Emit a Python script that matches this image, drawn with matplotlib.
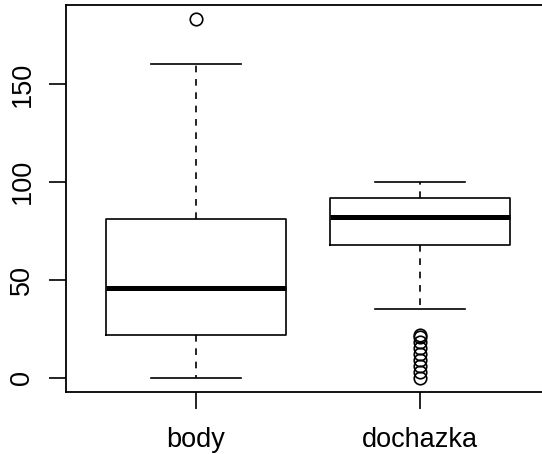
import matplotlib
matplotlib.use("Agg")
import matplotlib.pyplot as plt

# Summary statistics for each group
groups = ["body", "dochazka"]
whisker_low = [0, 35]
q1 = [22, 67.5]
median = [46, 82]
q3 = [81, 92]
whisker_high = [160, 100]
outliers = [[183], [0, 3, 6, 9, 12, 15, 18, 21, 22]]

yticks = [0, 50, 100, 150]

plt.rcParams["font.family"] = ["Liberation Sans", "DejaVu Sans"]

fig = plt.figure(figsize=(5.42, 4.54), dpi=100)
ax = fig.add_axes([66 / 542, 62 / 454, 484 / 542, 387 / 454])

stats = []
for i, name in enumerate(groups):
    stats.append(dict(label=name, whislo=whisker_low[i], q1=q1[i], med=median[i],
                      q3=q3[i], whishi=whisker_high[i], fliers=outliers[i]))

ax.bxp(stats, positions=[1, 2], widths=0.8,
       boxprops=dict(color="black", linewidth=1.2),
       medianprops=dict(color="black", linewidth=3.6, solid_capstyle="butt"),
       whiskerprops=dict(color="black", linewidth=1.2, linestyle=(0, (4, 4))),
       capprops=dict(color="black", linewidth=1.2),
       capwidths=0.4,
       flierprops=dict(marker="o", markerfacecolor="none", markeredgecolor="black",
                       markersize=9, markeredgewidth=1.2))

ax.set_xlim(0.42, 2.58)
ax.set_ylim(-7.32, 190.32)
ax.set_yticks(yticks)
ax.set_yticklabels([str(v) for v in yticks], rotation=90, va="center")
ax.set_xticks([1, 2])
ax.set_xticklabels(groups)
ax.tick_params(axis="both", length=12, width=1.2, labelsize=19.5, color="black")
ax.tick_params(axis="x", pad=13)
ax.tick_params(axis="y", pad=10)
for s in ax.spines.values():
    s.set_linewidth(1.3)

fig.savefig("out.png", dpi=100)
